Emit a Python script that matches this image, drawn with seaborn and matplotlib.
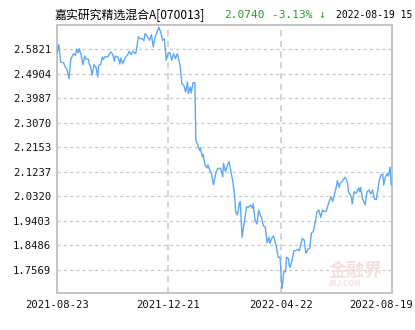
import matplotlib
matplotlib.use("Agg")
import matplotlib.pyplot as plt
from matplotlib.transforms import ScaledTranslation
import seaborn as sns
import pandas as pd

# ---- data ----
fund_name = "嘉实研究精选混合A[070013]"
last_nav = "2.0740"
last_change = "-3.13% ↓"
last_time = "2022-08-19 15"
start_date = "2021-08-23"
days = [0,2,4,7,9,11,13,15,18,20,21,23,24,26,28,30,31,34,35,36,38,40,42,44,45,47,49,50,52,55,
        58,60,62,63,66,68,69,71,74,76,78,80,82,85,86,88,90,92,94,95,97,100,102,104,106,108,110,112,114,116,
        117,118,120,122,124,126,128,130,131,133,135,137,139,141,142,144,145,147,149,150,152,154,155,157,158,160,162,163,165,167,
        169,172,174,177,179,180,182,185,186,188,190,192,193,195,197,198,200,203,205,207,209,211,212,214,216,218,220,221,223,225,
        227,229,230,232,234,236,237,239,241,243,244,245,247,248,250,251,252,254,256,258,260,262,263,265,267,269,271,273,275,277,
        279,281,283,285,287,289,291,294,296,298,300,302,303,305,306,308,311,313,314,315,318,319,321,323,326,327,328,330,333,335,
        337,339,341,343,345,347,348,350,352,353,355,357,358,360,361]
nav = [2.5646,2.5982,2.5336,2.5309,2.5149,2.5026,2.4712,2.5459,2.5646,2.5586,2.5810,2.5683,2.5832,2.5608,2.5235,2.5560,2.5459,2.5436,2.5235,2.5212,
       2.4839,2.5235,2.5149,2.4776,2.5212,2.5235,2.5522,2.5436,2.5534,2.5534,2.5709,2.5634,2.5362,2.5560,2.5511,2.5261,2.5485,2.5272,2.5522,2.5586,
       2.5735,2.5608,2.5735,2.5646,2.5810,2.6280,2.6206,2.6206,2.6131,2.6392,2.6333,2.6146,2.6355,2.5896,2.6269,2.6456,2.6631,2.6456,2.6146,2.6206,
       2.5832,2.5399,2.5646,2.5683,2.5399,2.5646,2.5459,2.5646,2.5522,2.5212,2.4525,2.4466,2.4215,2.4589,2.4152,2.4402,2.4178,2.4563,2.4563,2.2412,
       2.2248,2.2039,2.2124,2.1788,2.1874,2.1478,2.1378,2.1501,2.1292,2.1165,2.0754,2.1228,2.1366,2.1366,2.1053,2.1553,2.1239,2.1553,2.1613,2.1239,
       2.0866,2.0306,1.9746,1.9623,2.0059,2.0119,1.8790,1.9499,1.9933,1.9910,1.9996,1.9873,2.0033,1.9436,1.9287,1.9809,1.9585,1.9537,1.9212,1.9186,
       1.8588,1.8790,1.8566,1.8753,1.8838,1.8588,1.8439,1.8043,1.8043,1.6886,1.7132,1.7505,1.7505,1.8043,1.8006,1.7718,1.7670,1.7942,1.8290,1.8290,
       1.8342,1.8290,1.8465,1.8753,1.8689,1.8192,1.8342,1.8379,1.8962,1.8999,1.9335,1.9746,1.9809,1.9537,1.9809,1.9746,1.9772,2.0119,2.0306,2.0119,
       2.0433,2.0705,2.0903,2.0657,2.0806,2.0866,2.1030,2.0930,2.0806,2.0493,2.0306,2.0033,2.0493,2.0433,2.0620,2.0493,2.0657,2.0246,1.9996,2.0493,
       2.0556,2.0407,2.0556,2.0209,2.0209,2.0620,2.0866,2.1116,2.1154,2.0743,2.1053,2.1180,2.1079,2.1410,2.0740]
y_ticks = [1.7569, 1.8486, 1.9403, 2.0320, 2.1237, 2.2153, 2.3070, 2.3987, 2.4904, 2.5821]
y_range = (1.6699, 2.6736)
x_ticks = ["2021-08-23", "2021-12-21", "2022-04-22", "2022-08-19"]
x_end = "2022-08-20"

# ---- build ----
df = pd.DataFrame({"date": pd.Timestamp(start_date) + pd.to_timedelta(days, unit="D"),
                   "nav": nav})

sns.set_theme(style="white")
plt.rcParams["font.family"] = ["Noto Sans CJK SC", "DejaVu Sans"]

W, H = 415, 330
fig = plt.figure(figsize=(W / 100, H / 100), dpi=100)
ax = fig.add_axes([57 / W, 1 - 293.3 / H, (392 - 57) / W, (293.3 - 24.5) / H])

sns.lineplot(data=df, x="date", y="nav", ax=ax, color="#5ea9f2", linewidth=1.0, zorder=3)

ax.set_xlim(pd.Timestamp(start_date), pd.Timestamp(x_end))
ax.set_ylim(*y_range)
ax.set_xlabel("")
ax.set_ylabel("")

ax.set_yticks(y_ticks)
ax.set_yticklabels([f"{v:.4f}" for v in y_ticks])
xt = [pd.Timestamp(d) for d in x_ticks]
ax.set_xticks(xt)
ax.set_xticklabels(x_ticks)

for lab in ax.get_yticklabels() + ax.get_xticklabels():
    lab.set_fontfamily("DejaVu Sans Mono")
    lab.set_fontsize(7.6)
    lab.set_color("#111111")

ax.tick_params(axis="y", direction="in", length=2, width=0.8, color="#bbbbbb", pad=4)
ax.tick_params(axis="x", length=0, pad=5)

# horizontal dashed grid
for v in y_ticks:
    ax.axhline(v, color="#c8c8c8", linewidth=0.9, linestyle=(0, (2.5, 2.5)), zorder=0)
# vertical dashed lines at inner date ticks
for d in xt[1:3]:
    ax.axvline(d, color="#c8c8c8", linewidth=1.1, linestyle=(0, (4, 3)), zorder=0)

for s in ax.spines.values():
    s.set_color("#c4c4c4")
    s.set_linewidth(1.4)

# shift last x label so it fits like the reference
last = ax.get_xticklabels()[-1]
last.set_transform(last.get_transform() + ScaledTranslation(-0.10, 0, fig.dpi_scale_trans))

# title pieces
ty = 1 - 15 / H
fig.text(55 / W, ty, fund_name, fontsize=8.6, color="#000000", va="center", ha="left",
         family=["Noto Sans CJK SC", "DejaVu Sans"])
fig.text(224 / W, ty, last_nav, fontsize=8.0, color="#2e9a2e", va="center", ha="left",
         family="DejaVu Sans Mono")
fig.text(272 / W, ty, last_change, fontsize=8.0, color="#2e9a2e", va="center", ha="left",
         family=["DejaVu Sans Mono", "DejaVu Sans"])
fig.text(336 / W, ty, last_time, fontsize=7.0, color="#000000", va="center", ha="left",
         family="DejaVu Sans Mono")

# watermark
fig.text(356 / W, 1 - 270 / H, "金融界", fontsize=13, color="#f5e0e0", va="center", ha="center",
         family=["Noto Sans CJK SC", "DejaVu Sans"], fontweight="bold", zorder=0)
fig.text(345 / W, 1 - 283.5 / H, "JRJ.COM", fontsize=5.5, color="#f5e0e0", va="center", ha="center",
         fontstyle="italic", fontweight="bold", zorder=0)

fig.savefig("out.png", dpi=100)
